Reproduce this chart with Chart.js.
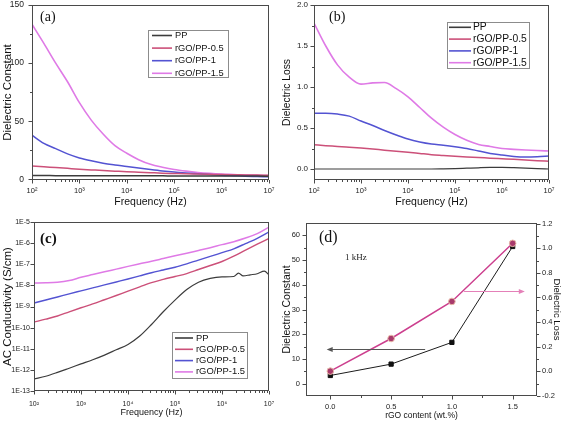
<!DOCTYPE html>
<html>
<head>
<meta charset="utf-8">
<script src="https://cdn.jsdelivr.net/npm/chart.js@4.4.1/dist/chart.umd.min.js"></script>
<style>
  body { margin: 0; background: #fff; }
  #wrap { position: relative; width: 563px; height: 424px; overflow: hidden; }
  .panel { position: absolute; }
</style>
</head>
<body>
<div id="wrap">
  <canvas class="panel" id="chartA" width="280" height="212" style="left:0;top:0"></canvas>
  <canvas class="panel" id="chartB" width="283" height="212" style="left:280px;top:0"></canvas>
  <canvas class="panel" id="chartC" width="280" height="212" style="left:0;top:212px"></canvas>
  <canvas class="panel" id="chartD" width="283" height="212" style="left:280px;top:212px"></canvas>
</div>
<script>
// ---- data ----
const seriesNames = ['PP', 'rGO/PP-0.5', 'rGO/PP-1', 'rGO/PP-1.5'];
const freqHz = [100, 178, 316, 562, 1000, 1778, 3162, 5623, 10000, 17783, 31623, 56234,
                100000, 177828, 316228, 562341, 1000000, 1778279, 3162278, 5623413, 10000000];
const freqTickHz = [1e2, 1e3, 1e4, 1e5, 1e6, 1e7];

// (a) dielectric constant
const epsPP = [3.3, 3.3, 3.25, 3.25, 3.2, 3.2, 3.15, 3.15, 3.1, 3.1, 3.05, 3.05, 3.0, 3.0, 2.95, 2.95, 2.9, 2.9, 2.85, 2.85, 2.8];
const eps05 = [11.5, 10.8, 10.2, 9.5, 8.8, 8.2, 7.6, 7.1, 6.6, 6.2, 5.8, 5.4, 5.1, 4.8, 4.6, 4.4, 4.2, 4.05, 3.9, 3.75, 3.6];
const eps10 = [38, 31, 26.5, 22, 18.5, 16, 14, 12.5, 11.2, 9.8, 8.5, 7.3, 6.3, 5.5, 4.8, 4.2, 3.6, 3.2, 2.8, 2.5, 2.2];
const eps15 = [133.5, 117, 100, 84, 66, 51, 39, 29, 22.5, 17, 13, 10.5, 8.5, 7.1, 6, 5.2, 4.6, 4.2, 3.8, 3.5, 3.3];
const epsTicks = [0, 50, 100, 150];

// (b) dielectric loss
const lossPP = [0, 0, 0, 0, 0, 0, 0, 0, 0, 0, 0, 0.002, 0.005, 0.01, 0.015, 0.019, 0.02, 0.017, 0.012, 0.005, 0];
const loss05 = [0.295, 0.285, 0.275, 0.265, 0.255, 0.243, 0.23, 0.218, 0.205, 0.19, 0.175, 0.165, 0.155, 0.147, 0.14, 0.132, 0.125, 0.118, 0.11, 0.102, 0.095];
const loss10 = [0.68, 0.68, 0.67, 0.645, 0.585, 0.53, 0.47, 0.415, 0.365, 0.33, 0.305, 0.29, 0.272, 0.25, 0.22, 0.19, 0.17, 0.153, 0.146, 0.15, 0.16];
const loss15 = [1.78, 1.5, 1.27, 1.12, 1.035, 1.05, 1.055, 0.98, 0.88, 0.75, 0.62, 0.51, 0.42, 0.35, 0.3, 0.275, 0.25, 0.24, 0.232, 0.225, 0.22];
const lossTicks = [0, 0.5, 1.0, 1.5, 2.0];

// (c) AC conductivity (S/cm)
const freqPPc = [100, 178, 316, 562, 1000, 1778, 3162, 5623, 10000, 17783, 31623, 56234,
                 100000, 177828, 316228, 562341, 1000000, 1778279, 2238721, 2818383, 3981072, 5623413, 7943282, 10000000];
const sigPP = [3.72e-13, 5.01e-13, 7.59e-13, 1.2e-12, 1.91e-12, 3.02e-12, 5.01e-12, 8.91e-12, 1.58e-11, 3.98e-11, 1.41e-10, 5.62e-10,
               2.0e-9, 6.31e-9, 1.41e-8, 2.14e-8, 2.51e-8, 2.63e-8, 3.8e-8, 2.82e-8, 3.16e-8, 3.55e-8, 4.68e-8, 3.16e-8];
const sig05 = [1.82e-10, 2.51e-10, 3.55e-10, 5.62e-10, 8.71e-10, 1.32e-9, 2.09e-9, 3.31e-9, 5.37e-9, 8.51e-9, 1.35e-8, 1.91e-8,
               2.63e-8, 3.63e-8, 5.62e-8, 8.71e-8, 1.35e-7, 2.4e-7, 4.68e-7, 8.91e-7, 1.66e-6];
const sig10 = [1.45e-9, 2.04e-9, 2.82e-9, 3.98e-9, 5.5e-9, 7.59e-9, 1.05e-8, 1.45e-8, 2.0e-8, 2.82e-8, 3.98e-8, 5.37e-8,
               7.24e-8, 1.05e-7, 1.58e-7, 2.34e-7, 3.55e-7, 5.37e-7, 9.5e-7, 1.7e-6, 3.39e-6];
const sig15 = [1.29e-8, 1.32e-8, 1.41e-8, 1.7e-8, 2.4e-8, 3.24e-8, 4.37e-8, 5.89e-8, 7.94e-8, 1.05e-7, 1.38e-7, 1.86e-7,
               2.51e-7, 3.31e-7, 4.47e-7, 6.03e-7, 8.51e-7, 1.17e-6, 1.74e-6, 2.82e-6, 5.75e-6];
const sigTicks = [1e-13, 1e-12, 1e-11, 1e-10, 1e-9, 1e-8, 1e-7, 1e-6, 1e-5];

// (d) values at 1 kHz vs rGO content
const rgoContent = [0, 0.5, 1.0, 1.5];
const eps1k = [3.3, 7.9, 16.7, 55.5];
const loss1k = [0.002, 0.267, 0.568, 1.04];
const contentTicks = [0, 0.5, 1.0, 1.5];
const eps1kTicks = [0, 10, 20, 30, 40, 50, 60];
const loss1kTicks = [-0.2, 0, 0.2, 0.4, 0.6, 0.8, 1.0, 1.2];

// ---- styling ----
const SANS = "'Liberation Sans', Arial, sans-serif";
const SERIF = "'Liberation Serif', 'Times New Roman', serif";
const seriesColors = ['#3c3c3c', '#cc5079', '#5353d2', '#df7ae6'];
const SUP = { 2: '\u00b2', 3: '\u00b3', 4: '\u2074', 5: '\u2075', 6: '\u2076', 7: '\u2077' };

function pts(xs, ys) { return xs.map((x, i) => ({ x: x, y: ys[i] })); }

function curve(i, xs, ys, w) {
  return { label: seriesNames[i], data: pts(xs, ys), borderColor: seriesColors[i], backgroundColor: seriesColors[i],
           borderWidth: w, pointRadius: 0, cubicInterpolationMode: 'monotone', fill: false };
}

function fixedTicks(values) {
  return function (scale) { scale.ticks = values.map(v => ({ value: v })); };
}
function fitBox(size) {
  return function (scale) {
    if (scale.isHorizontal()) { scale.height = size; scale.paddingLeft = 0; scale.paddingRight = 0; }
    else { scale.width = size; scale.paddingTop = 0; scale.paddingBottom = 0; }
  };
}

function axis(o) {
  return {
    type: o.type || 'linear', position: o.position, min: o.min, max: o.max,
    afterBuildTicks: fixedTicks(o.ticks), afterFit: fitBox(o.box),
    grid: { display: false, drawTicks: false }, border: { display: false },
    ticks: { autoSkip: false, maxRotation: 0, minRotation: 0, padding: o.tickPad, color: '#222',
             font: { family: SANS, size: o.tickSize }, callback: o.label },
    title: { display: true, text: o.title, color: '#111', font: { family: SANS, size: o.titleSize },
             padding: { top: o.titlePad, bottom: o.titlePad } }
  };
}

const powLabel = v => '10' + SUP[Math.round(Math.log10(v))];

function minorValues(sc, major, mode) {
  const out = [];
  if (mode === 'log') {
    for (let e = Math.floor(Math.log10(sc.min)); e <= Math.ceil(Math.log10(sc.max)); e++) {
      for (let k = 2; k <= 9; k++) { const v = k * Math.pow(10, e); if (v > sc.min && v < sc.max) out.push(v); }
    }
  } else if (mode === 'mid') {
    const step = major[1] - major[0];
    for (let v = major[0] - step / 2; v < sc.max; v += step) if (v > sc.min) out.push(v);
  }
  return out;
}

function drawTicks(ctx, sc, mode) {
  const major = sc.ticks.map(t => t.value);
  const minor = minorValues(sc, major, mode);
  ctx.strokeStyle = '#4a4a4a'; ctx.lineWidth = 1;
  ctx.beginPath();
  const mark = (v, len) => {
    const p = Math.round(sc.getPixelForValue(v)) + 0.5;
    if (sc.position === 'bottom') { ctx.moveTo(p, sc.top); ctx.lineTo(p, sc.top + len); }
    else if (sc.position === 'left') { ctx.moveTo(sc.right, p); ctx.lineTo(sc.right - len, p); }
    else { ctx.moveTo(sc.left, p); ctx.lineTo(sc.left + len, p); }
  };
  major.forEach(v => mark(v, 3.5));
  minor.forEach(v => mark(v, 2));
  ctx.stroke();
}

function arrow(ctx, x0, y0, x1, y1, color) {
  ctx.strokeStyle = color; ctx.fillStyle = color; ctx.lineWidth = 1;
  const dir = Math.sign(x1 - x0);
  ctx.beginPath(); ctx.moveTo(x0, y0); ctx.lineTo(x1 - dir * 4, y1); ctx.stroke();
  ctx.beginPath(); ctx.moveTo(x1, y1); ctx.lineTo(x1 - dir * 6, y1 - 2.5); ctx.lineTo(x1 - dir * 6, y1 + 2.5); ctx.closePath(); ctx.fill();
}

// frame, tick marks, panel tag, inner legend and notes
const panelDecor = {
  id: 'panelDecor',
  afterDraw(chart, args, o) {
    const ctx = chart.ctx, a = chart.chartArea;
    ctx.save();
    ctx.strokeStyle = '#4a4a4a'; ctx.lineWidth = 1;
    const L = Math.round(a.left) + 0.5, T = Math.round(a.top) + 0.5;
    const R = Math.round(a.right) - 0.5, B = Math.round(a.bottom) - 0.5;
    ctx.strokeRect(L, T, R - L, B - T);
    Object.values(chart.scales).forEach(sc => drawTicks(ctx, sc, o.minor ? o.minor[sc.id] : null));

    ctx.fillStyle = '#111'; ctx.textBaseline = 'middle'; ctx.textAlign = 'left';
    ctx.font = o.tagFont + ' ' + SERIF;
    ctx.fillText(o.tag, a.left + o.tagDx, a.top + o.tagDy);

    if (o.legend) {
      const g = o.legend;
      ctx.strokeStyle = '#8c8c8c'; ctx.lineWidth = 1;
      ctx.strokeRect(g.x + 0.5, g.y + 0.5, g.w, g.h);
      ctx.font = g.size + 'px ' + SANS;
      chart.data.datasets.forEach((ds, i) => {
        const y = g.row0 + i * g.gap;
        ctx.strokeStyle = ds.borderColor; ctx.lineWidth = 1.6;
        ctx.beginPath(); ctx.moveTo(g.x0, y); ctx.lineTo(g.x1, y); ctx.stroke();
        ctx.fillStyle = '#111'; ctx.fillText(ds.label, g.tx, y);
      });
    }
    if (o.notes) {
      o.notes.forEach(n => {
        const sx = chart.scales.x, sy = chart.scales[n.axis];
        ctx.font = n.font + ' ' + SERIF; ctx.fillStyle = '#222';
        ctx.fillText(n.text, sx.getPixelForValue(n.x), sy.getPixelForValue(n.y));
      });
    }
    if (o.arrows) {
      o.arrows.forEach(r => {
        const sx = chart.scales.x, sy = chart.scales[r.axis];
        const y = Math.round(sy.getPixelForValue(r.y)) + 0.5;
        arrow(ctx, sx.getPixelForValue(r.from), y, sx.getPixelForValue(r.to), y, r.color);
      });
    }
    ctx.restore();
  }
};
Chart.register(panelDecor);

function baseOptions(padding, decor, scales) {
  return {
    responsive: false, animation: false, events: [],
    layout: { padding: padding },
    plugins: { legend: { display: false }, tooltip: { enabled: false }, panelDecor: decor },
    scales: scales
  };
}

function freqAxis(box, tickPad, titlePad, titleSize, tickSize) {
  return axis({ type: 'logarithmic', position: 'bottom', min: 100, max: 1e7, ticks: freqTickHz, box: box,
                tickPad: tickPad, tickSize: tickSize, label: powLabel, title: 'Frequency (Hz)',
                titleSize: titleSize, titlePad: titlePad });
}

// (a)
new Chart(document.getElementById('chartA'), {
  type: 'line',
  data: { datasets: [curve(0, freqHz, epsPP, 1.5), curve(1, freqHz, eps05, 1.5), curve(2, freqHz, eps10, 1.5), curve(3, freqHz, eps15, 1.6)] },
  options: baseOptions({ top: 5, right: 11, left: 0, bottom: 0 },
    { tag: '(a)', tagFont: '14px', tagDx: 8, tagDy: 12, minor: { x: 'log', y: 'mid' },
      legend: { x: 148, y: 30, w: 80, h: 47, row0: 35.5, gap: 12.6, x0: 152, x1: 172, tx: 175, size: 9.3 } },
    { x: freqAxis(32, 6, 4, 10.5, 7.5),
      y: axis({ position: 'left', min: -0.5, max: 150, ticks: epsTicks, box: 32, tickPad: 8, tickSize: 8.5,
                label: v => String(v), title: 'Dielectric Constant', titleSize: 11.5, titlePad: 1.2 }) })
});

// (b)
new Chart(document.getElementById('chartB'), {
  type: 'line',
  data: { datasets: [curve(0, freqHz, lossPP, 1.2), curve(1, freqHz, loss05, 1.5), curve(2, freqHz, loss10, 1.5), curve(3, freqHz, loss15, 1.6)] },
  options: baseOptions({ top: 5, right: 14, left: 0, bottom: 0 },
    { tag: '(b)', tagFont: '14px', tagDx: 15, tagDy: 12, minor: { x: 'log', y: 'mid' },
      legend: { x: 167, y: 22, w: 82, h: 46, row0: 27.3, gap: 11.8, x0: 169, x1: 191, tx: 193, size: 10.3 } },
    { x: freqAxis(32, 6, 4, 10.5, 7.5),
      y: axis({ position: 'left', min: -0.134, max: 2.0, ticks: lossTicks, box: 34, tickPad: 6, tickSize: 8,
                label: v => v.toFixed(1), title: 'Dielectric Loss', titleSize: 10.3, titlePad: 0.8 }) })
});

// (c)
new Chart(document.getElementById('chartC'), {
  type: 'line',
  data: { datasets: [curve(0, freqPPc, sigPP, 1.2), curve(1, freqHz, sig05, 1.4), curve(2, freqHz, sig10, 1.4), curve(3, freqHz, sig15, 1.5)] },
  options: baseOptions({ top: 10, right: 11, left: 0, bottom: 0 },
    { tag: '(c)', tagFont: 'bold 15px', tagDx: 6, tagDy: 17, minor: { x: 'log' },
      legend: { x: 172, y: 120, w: 75, h: 46, row0: 126, gap: 11.3, x0: 175, x1: 193, tx: 196, size: 9.4 } },
    { x: freqAxis(33, 9, 5.6, 9, 7),
      y: axis({ type: 'logarithmic', position: 'left', min: 1e-13, max: 1e-5, ticks: sigTicks, box: 34, tickPad: 4, tickSize: 7,
                label: v => '1E' + Math.round(Math.log10(v)), title: 'AC Conductivity (S/cm)', titleSize: 11.5, titlePad: 1 }) })
});

// (d)
new Chart(document.getElementById('chartD'), {
  type: 'line',
  data: { datasets: [
    { label: 'Dielectric Constant', data: pts(rgoContent, eps1k), yAxisID: 'y', order: 2,
      borderColor: '#1c1c1c', borderWidth: 1, pointStyle: 'rect', pointRadius: 3,
      pointBackgroundColor: '#111', pointBorderColor: '#111', tension: 0 },
    { label: 'Dielectric Loss', data: pts(rgoContent, loss1k), yAxisID: 'y2', order: 1,
      borderColor: '#cc3f8e', borderWidth: 1.5, pointStyle: 'circle', pointRadius: 3.3,
      pointBackgroundColor: '#a83a6c', pointBorderColor: '#e8b9a8', pointBorderWidth: 1, tension: 0 }
  ] },
  options: baseOptions({ top: 11, right: 0, left: 0, bottom: 0 },
    { tag: '(d)', tagFont: '16px', tagDx: 13, tagDy: 15, minor: { x: 'mid', y: 'mid', y2: 'mid' },
      notes: [{ text: '1 kHz', x: 0.12, y: 51, axis: 'y', font: '9px' }],
      arrows: [{ from: 0.78, to: -0.03, y: 14.2, axis: 'y', color: '#555' },
               { from: 1.1, to: 1.6, y: 0.653, axis: 'y2', color: '#e480b8' }] },
    { x: axis({ position: 'bottom', min: -0.2, max: 1.7, ticks: contentTicks, box: 28, tickPad: 6, tickSize: 7.5,
                label: v => v.toFixed(1), title: 'rGO content (wt.%)', titleSize: 8.5, titlePad: 3 }),
      y: axis({ position: 'left', min: -5, max: 65, ticks: eps1kTicks, box: 26, tickPad: 6, tickSize: 7.5,
                label: v => String(v), title: 'Dielectric Constant', titleSize: 10.5, titlePad: 0.7 }),
      y2: axis({ position: 'right', min: -0.2, max: 1.205, ticks: loss1kTicks, box: 26, tickPad: 5, tickSize: 7.5,
                 label: v => v.toFixed(1), title: 'Dielectric Loss', titleSize: 9.5, titlePad: 0.3 }) })
});
</script>
</body>
</html>
